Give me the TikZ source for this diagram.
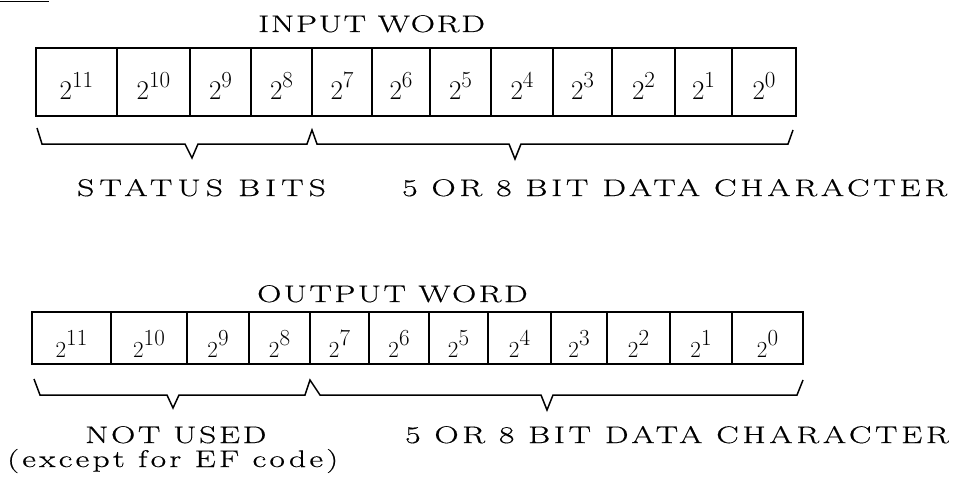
\documentclass[tikz,border=0pt]{standalone}
\usepackage{fontspec}
\setmainfont{Latin Modern Roman}
\newcommand\pwin[1]{\fontsize{27}{27}\selectfont 2\raisebox{12pt}{\fontsize{23}{23}\selectfont #1}}
\newcommand\pwout[1]{\fontsize{23}{23}\selectfont 2\raisebox{12pt}{\fontsize{23}{23}\selectfont #1}}
\newcommand\labfont[1]{\fontsize{24}{28}\selectfont\addfontfeatures{FakeStretch=1.4,FakeBold=0.5,LetterSpace=#1}}
\tikzset{
  incell/.style={draw, line width=1.6pt, inner sep=0pt, text height=36pt, text depth=0pt, minimum height=68pt},
  outcell/.style={draw, line width=1.6pt, inner sep=0pt, text height=38pt, text depth=0pt, minimum height=52pt},
  lab/.style={inner sep=0pt, anchor=base west},
  brace/.style={line width=1.5pt, line join=miter},
}
\begin{document}
\begin{tikzpicture}[x=1pt,y=-1pt]
\useasboundingbox (0,0) rectangle (974,492);
\fill[white] (0,0) rectangle (974,492);
\node[inner sep=0pt, anchor=base west, font=\fontsize{24}{28}\selectfont] (place) at (-3,0) {\underline{Place}};
% input word
\node[lab, font=\labfont{7}] (intitle) at (258,32) {INPUT WORD};
\foreach \l/\r/\e [count=\i] in {36/117/11,117/190/10,190/251/9,251/312/8,312/372/7,372/430/6,430/491/5,491/553/4,553/612/3,612/675/2,675/732/1,732/796/0}{
  \pgfmathsetmacro\w{\r-\l}
  \node[incell, minimum width=\w pt] (in\i) at ({(\l+\r)/2},82) {\pwin{\e}};
}
\draw[brace] (37,128) -- (42,144) -- (185,144) -- (192,158) -- (198,144) -- (307,144) -- (312,130)
  -- (317,144) -- (509,144) -- (515,159) -- (521,144) -- (788,144) -- (793,130);
\node[lab, font=\labfont{21}] (status) at (77,196) {STATUS BITS};
\node[lab, font=\labfont{15.6}] (indata) at (402,196) {5 OR 8 BIT DATA CHARACTER};
% output word
\node[lab, font=\labfont{10}] (outtitle) at (257,302) {OUTPUT WORD};
\foreach \l/\r/\e [count=\i] in {32/111/11,111/187/10,187/249/9,249/310/8,310/369/7,369/429/6,429/488/5,488/551/4,551/607/3,607/670/2,670/732/1,732/803/0}{
  \pgfmathsetmacro\w{\r-\l}
  \node[outcell, minimum width=\w pt] (out\i) at ({(\l+\r)/2},338) {\pwout{\e}};
}
\draw[brace] (34,379) -- (40,395) -- (167,395) -- (173,408) -- (179,395) -- (305,395) -- (310,380)
  -- (320,395) -- (541,395) -- (547,410) -- (553,395) -- (797,395) -- (803,380);
\node[lab, font=\labfont{11}] (notused) at (85,443) {NOT USED};
\node[lab, font=\labfont{13.5}] (except) at (7,467) {(except for EF code)};
\node[lab, font=\labfont{15.3}] (outdata) at (405,443) {5 OR 8 BIT DATA CHARACTER};
\end{tikzpicture}
\end{document}
